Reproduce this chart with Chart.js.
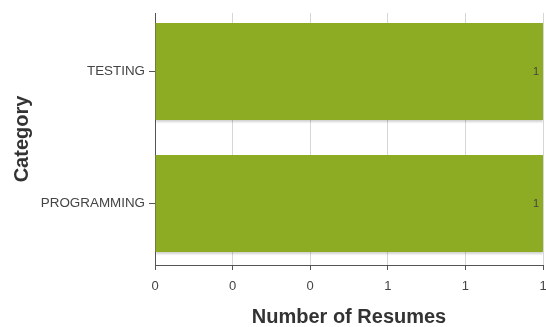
<!DOCTYPE html>
<html><head><meta charset="utf-8">
<script src="https://cdn.jsdelivr.net/npm/chart.js@4"></script>
<style>html,body{margin:0;padding:0;background:#fff}#wrap{width:546px;height:327px;position:relative}</style>
</head><body><div id="wrap"><canvas id="c"></canvas></div>
<script>
const categories = ['TESTING', 'PROGRAMMING'];
const resumeCounts = [1, 1];
const xTickValues = [0, 0.2, 0.4, 0.6, 0.8, 1];
const xTickLabels = ['0', '0', '0', '1', '1', '1'];
const xTitle = 'Number of Resumes';
const yTitle = 'Category';

const FONT = '"Liberation Sans", Arial, sans-serif';

const shadowPlugin = {
  id: 'shadow',
  beforeDatasetDraw(chart) {
    const ctx = chart.ctx; ctx.save();
    ctx.shadowColor = 'rgba(0,0,0,0.18)'; ctx.shadowOffsetY = 2; ctx.shadowBlur = 2;
  },
  afterDatasetDraw(chart) { chart.ctx.restore(); }
};
const valueLabels = {
  id: 'valueLabels',
  afterDatasetsDraw(chart) {
    const ctx = chart.ctx;
    const meta = chart.getDatasetMeta(0);
    ctx.save();
    ctx.font = '11px ' + FONT; ctx.fillStyle = '#444';
    ctx.textAlign = 'right'; ctx.textBaseline = 'middle';
    meta.data.forEach((el, i) => {
      ctx.fillText(String(resumeCounts[i]), el.x - 4, el.y);
    });
    ctx.restore();
  }
};

new Chart(document.getElementById('c'), {
  type: 'bar',
  data: {
    datasets: [{
      data: categories.map((c, i) => ({ x: resumeCounts[i], y: i })),
      backgroundColor: '#8dac24',
      borderWidth: 0,
      categoryPercentage: 1,
      barPercentage: 0.735
    }]
  },
  plugins: [shadowPlugin, valueLabels],
  options: {
    indexAxis: 'y',
    responsive: true, maintainAspectRatio: false, animation: false,
    layout: { padding: { top: 13, right: 3, left: 0, bottom: 0 } },
    plugins: { legend: { display: false }, tooltip: { enabled: false } },
    scales: {
      x: {
        type: 'linear', min: 0, max: 1,
        afterBuildTicks: s => { s.ticks = xTickValues.map(v => ({ value: v })); },
        afterFit: s => { s.height = 327 - 265; s.paddingRight = 0; s.paddingLeft = 0; },
        ticks: { callback: (v, i) => xTickLabels[i], color: '#444', font: { family: FONT, size: 13 }, padding: 9, maxRotation: 0 },
        grid: { color: '#d6d6d6', tickColor: '#555', tickLength: 5, lineWidth: 1 },
        border: { display: true, color: '#555', width: 1 },
        title: { display: true, text: xTitle, color: '#333', font: { family: FONT, size: 20, weight: 'bold' }, padding: { top: 4, bottom: -2 } }
      },
      y: {
        type: 'linear', reverse: true, min: -0.443, max: 1.466, offset: false,
        afterBuildTicks: s => { s.ticks = categories.map((c, i) => ({ value: i })); },
        afterFit: s => { s.width = 155; },
        ticks: { callback: (v) => categories[v], color: '#444', font: { family: FONT, size: 13.4 }, padding: 4 },
        grid: { offset: false, drawOnChartArea: false, drawTicks: true, tickLength: 6, tickColor: '#555' },
        border: { display: true, color: '#555', width: 1 },
        title: { display: true, text: yTitle, color: '#333', font: { family: FONT, size: 20, weight: 'bold' }, padding: { top: 10, bottom: 0 } }
      }
    }
  }
});
</script></body></html>
